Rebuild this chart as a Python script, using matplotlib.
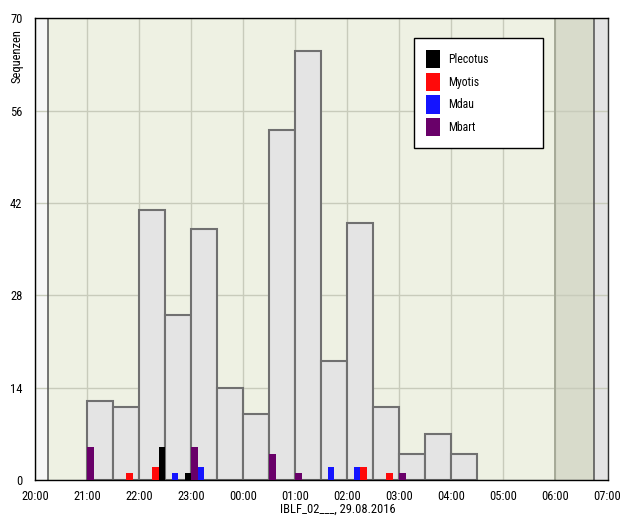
import matplotlib
matplotlib.use("Agg")
import matplotlib.pyplot as plt
from matplotlib import font_manager
from matplotlib.patches import Patch

# ---- fonts -------------------------------------------------------------
_names = {f.name for f in font_manager.fontManager.ttflist}
if "Roboto Condensed" in _names:
    FAMILY, FS, LFS = "Roboto Condensed", 9.0, 8.5
elif "Archivo Narrow" in _names:
    FAMILY, FS, LFS = "Archivo Narrow", 9.0, 8.5
else:
    FAMILY, FS, LFS = "Liberation Sans", 7.8, 7.4
plt.rcParams["font.family"] = FAMILY

# ---- data --------------------------------------------------------------
hour_labels = ["20:00", "21:00", "22:00", "23:00", "00:00", "01:00",
               "02:00", "03:00", "04:00", "05:00", "06:00", "07:00"]
y_ticks = [0, 14, 28, 42, 56, 70]

# half-hour totals of recorded sequences
bin_starts = ["21:00", "21:30", "22:00", "22:30", "23:00", "23:30",
              "00:00", "00:30", "01:00", "01:30", "02:00", "02:30",
              "03:00", "03:30", "04:00"]
sequences = [12, 11, 41, 25, 38, 14, 10, 53, 65, 18, 39, 11, 4, 7, 4]

species = ["Plecotus", "Myotis", "Mdau", "Mbart"]
species_colors = ["#000000", "#ff0a0a", "#1414ff", "#690069"]

plecotus_times = ["22:22:30", "22:52:30"]
plecotus_counts = [5, 1]
myotis_times = ["21:45:00", "22:15:00", "02:15:00", "02:45:00"]
myotis_counts = [1, 2, 2, 1]
mdau_times = ["22:37:30", "23:07:30", "01:37:30", "02:07:30"]
mdau_counts = [1, 2, 2, 2]
mbart_times = ["21:00:00", "23:00:00", "00:30:00", "01:00:00", "03:00:00"]
mbart_counts = [5, 5, 4, 1, 1]

sunset = "20:15"
dawn = "06:00"
sunrise = "06:45"

night_label = "IBLF_02___, 29.08.2016"


def to_hours(s):
    """Hours after 20:00 for an 'HH:MM[:SS]' clock time of the night."""
    parts = [int(p) for p in s.split(":")]
    h = parts[0] + parts[1] / 60 + (parts[2] / 3600 if len(parts) > 2 else 0)
    if h < 12:
        h += 24
    return h - 20


# ---- figure ------------------------------------------------------------
W, H = 628, 518
fig = plt.figure(figsize=(W / 100, H / 100), dpi=100)
fig.patch.set_facecolor("white")
ax = fig.add_axes([35 / W, 1 - 480 / H, (607.5 - 35) / W, (480 - 18.3) / H])

ax.set_facecolor("#eef1e3")
x_end = len(hour_labels) - 1
ax.axvspan(0, to_hours(sunset), color="#f7f7f7", zorder=0.2, lw=0)
ax.axvspan(to_hours(dawn), to_hours(sunrise), color="#d8dbcb", zorder=0.2, lw=0)
ax.axvspan(to_hours(sunrise), x_end, color="#e4e4e4", zorder=0.2, lw=0)

ax.set_axisbelow(True)
ax.grid(True, color="#c8cbbb", lw=1.0)
ax.axvline(to_hours(sunset), color="#505050", lw=1.1, zorder=0.6)
ax.axvline(to_hours(dawn), color="#a6aa98", lw=1.4, zorder=0.6)
ax.axvline(to_hours(sunrise), color="#505050", lw=1.1, zorder=0.6)

# total sequences per half hour
ax.bar([to_hours(t) for t in bin_starts], sequences, width=0.5, align="edge",
       color="#e4e4e4", edgecolor="#707070", linewidth=1.5, zorder=2)

# per-species counts in 7.5-minute slots
species_times = [plecotus_times, myotis_times, mdau_times, mbart_times]
species_counts = [plecotus_counts, myotis_counts, mdau_counts, mbart_counts]
for name, col, times, counts in zip(species, species_colors,
                                    species_times, species_counts):
    ax.bar([to_hours(t) for t in times], counts, width=0.125, align="edge",
           color=col, linewidth=0, zorder=3)

ax.set_xlim(0, x_end)
ax.set_ylim(0, 70)
ax.set_xticks(range(len(hour_labels)))
ax.set_xticklabels(hour_labels)
ax.set_yticks(y_ticks)
ax.tick_params(axis="both", length=0, labelsize=FS)
ax.tick_params(axis="x", pad=7.5)
ax.tick_params(axis="y", pad=9)

for side in ["left", "top", "bottom"]:
    ax.spines[side].set_color("black")
    ax.spines[side].set_linewidth(1.0)
ax.spines["right"].set_color("#303030")
ax.spines["right"].set_linewidth(1.0)

fig.text(16.7 / W, 1 - 29 / H, "Sequenzen", rotation=90, ha="center",
         va="top", fontsize=FS)
fig.text(337.5 / W, 1 - 509.5 / H, night_label, ha="center", va="center",
         fontsize=FS)

handles = [Patch(facecolor=c, edgecolor="none", label=n)
           for n, c in zip(species, species_colors)]
leg = ax.legend(handles=handles, loc="upper left", mode="expand",
                bbox_to_anchor=(414.3 / W, 1 - 147.7 / H, 128.4 / W, 109.4 / H),
                bbox_transform=fig.transFigure, borderaxespad=0,
                fontsize=LFS, handlelength=1.21, handleheight=2.01,
                handletextpad=0.65, labelspacing=0.37, borderpad=0.99,
                fancybox=False, framealpha=1, edgecolor="black")
leg.get_frame().set_linewidth(1.0)
leg.set_zorder(5)

fig.savefig("out.png", dpi=100)
